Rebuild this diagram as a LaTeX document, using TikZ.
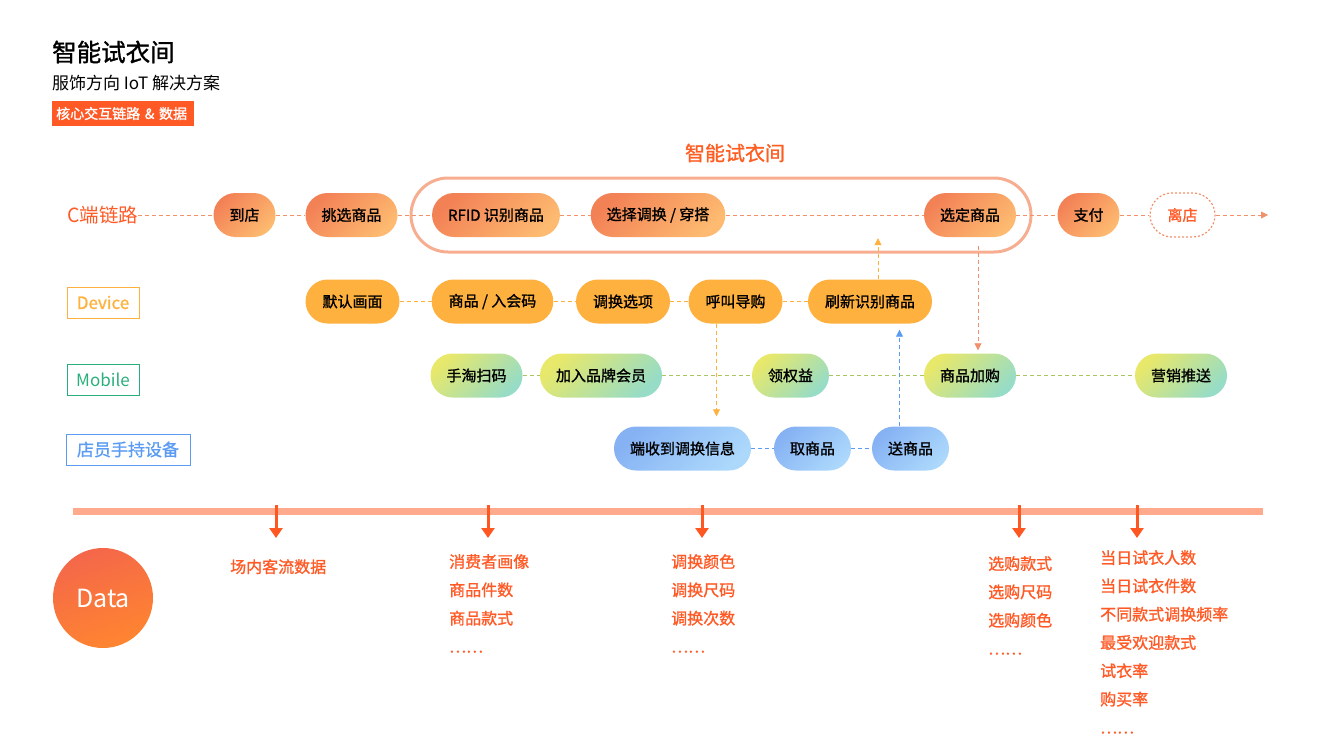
\documentclass[tikz,border=0pt]{standalone}
\usepackage{fontspec}
\setmainfont{Noto Sans CJK SC}[AutoFakeBold=1.2]
\usetikzlibrary{arrows.meta}
\definecolor{cRed}{HTML}{FF5A26}
\definecolor{cLine}{HTML}{F0916A}
\definecolor{cTopA}{HTML}{F38156}
\definecolor{cBotA}{HTML}{FDBA70}
\definecolor{cRoom}{HTML}{F7AD8F}
\definecolor{cDev}{HTML}{FFB13F}
\definecolor{cMob}{HTML}{2AAE7A}
\definecolor{cMobA}{HTML}{E8E86A}
\definecolor{cMobB}{HTML}{96DCC6}
\definecolor{cMobLine}{HTML}{A9C460}
\definecolor{cBlue}{HTML}{5B9CF2}
\definecolor{cBlueA}{HTML}{86B2F4}
\definecolor{cBlueB}{HTML}{ACD8FC}
\definecolor{cBar}{HTML}{FFAA8C}
\definecolor{cArr}{HTML}{FF5722}
\definecolor{cDataA}{HTML}{F4674A}
\definecolor{cDataB}{HTML}{FF8530}

\begin{document}
\begin{tikzpicture}[x=1pt,y=-1pt,
  pill/.style={rounded corners=22pt, minimum height=44pt, inner xsep=16pt,
    font=\fontsize{15}{18}\selectfont\bfseries},
  cstep/.style={pill, top color=cTopA, bottom color=cBotA, shading angle=45},
  devstep/.style={pill, fill=cDev, inner xsep=17pt},
  mobstep/.style={pill, top color=cMobA, bottom color=cMobB, shading angle=45},
  staffstep/.style={pill, top color=cBlueA, bottom color=cBlueB, shading angle=45},
  lanebox/.style={draw, line width=1pt, minimum height=31pt, inner xsep=7pt,
    font=\fontsize{17}{20}\selectfont},
  link/.style={line width=0.8pt, dash pattern=on 4pt off 3pt},
  tip/.style={-{Triangle[length=7pt,width=7pt]}},
  datatext/.style={anchor=north west, inner sep=0pt, align=left, text=cRed,
    font=\fontsize{16}{28.3}\selectfont\bfseries},
  dataarrow/.style={cArr, line width=3pt, -{Triangle[length=10pt,width=13pt]}}]
\useasboundingbox (0,0) rectangle (1336,752);

% heading
\node[anchor=west, inner sep=0pt, font=\fontsize{24.5}{27}\selectfont\bfseries] (title) at (52,52) {智能试衣间};
\node[anchor=west, inner sep=0pt, font=\fontsize{17}{20}\selectfont] (subtitle) at (52,83) {服饰方向 IoT 解决方案};
\node[anchor=west, fill=cRed, text=white, text width=134pt, inner xsep=4pt, minimum height=25pt,
  font=\fontsize{14}{16}\selectfont\bfseries] (tag) at (52,113.5) {核心交互链路 \& 数据};

% fitting room
\node[text=cRed!90!orange, font=\fontsize{20}{23}\selectfont\bfseries] (roomtitle) at (735,153) {智能试衣间};
\draw[cRoom, line width=3pt, rounded corners=37pt] (411,178) rectangle (1031,252);

% C chain
\node[anchor=west, inner sep=0pt, text=cRed, font=\fontsize{19.5}{22}\selectfont] (clane) at (67,215) {C端链路};
\node[cstep] (daodian) at (244.5,215) {到店};
\node[cstep] (tiaoxuan) at (351.5,215) {挑选商品};
\node[cstep] (rfid) at (496,215) {RFID 识别商品};
\node[cstep] (xuanze) at (658,215) {选择调换 / 穿搭};
\node[cstep] (xuanding) at (970,215) {选定商品};
\node[cstep] (zhifu) at (1088.5,215) {支付};
\node[pill, draw=cLine, line width=1.2pt, dash pattern=on 2pt off 2pt, text=cRed, minimum width=65pt] (lidian) at (1182.5,215) {离店};
\coordinate (cend) at (1268,215);
\draw[link, cLine] (clane) -- (daodian);
\draw[link, cLine] (daodian) -- (tiaoxuan);
\draw[link, cLine] (tiaoxuan) -- (rfid);
\draw[link, cLine] (rfid) -- (xuanze);
\draw[link, cLine] (xuanze) -- (xuanding);
\draw[link, cLine] (xuanding) -- (zhifu);
\draw[link, cLine] (zhifu) -- (lidian);
\draw[link, cLine, tip] (lidian) -- (cend);

% device
\node[lanebox, cDev, minimum width=72pt, font=\fontsize{17}{20}\selectfont\bfseries] (devlane) at (103,302.5) {Device};
\node[devstep] (moren) at (352.5,301.5) {默认画面};
\node[devstep] (ruhui) at (492.5,301.5) {商品 / 入会码};
\node[devstep] (tiaohuan) at (623,301.5) {调换选项};
\node[devstep] (hujiao) at (735.5,301.5) {呼叫导购};
\node[devstep] (shuaxin) at (870,301.5) {刷新识别商品};
\draw[link, cDev] (moren) -- (ruhui);
\draw[link, cDev] (ruhui) -- (tiaohuan);
\draw[link, cDev] (tiaohuan) -- (hujiao);
\draw[link, cDev] (hujiao) -- (shuaxin);

% mobile
\node[lanebox, cMob, minimum width=72pt] (moblane) at (103,380) {Mobile};
\node[mobstep] (saoma) at (476.5,375.5) {手淘扫码};
\node[mobstep] (huiyuan) at (601,375.5) {加入品牌会员};
\node[mobstep] (quanyi) at (790.5,375.5) {领权益};
\node[mobstep] (jiagou) at (970,375.5) {商品加购};
\node[mobstep] (tuisong) at (1181,375.5) {营销推送};
\draw[link, cMobLine] (saoma) -- (huiyuan);
\draw[link, cMobLine] (huiyuan) -- (quanyi);
\draw[link, cMobLine] (quanyi) -- (jiagou);
\draw[link, cMobLine] (jiagou) -- (tuisong);

% staff device
\node[lanebox, cBlue, minimum width=124pt, font=\fontsize{17}{20}\selectfont\bfseries] (stafflane) at (128,449.5) {店员手持设备};
\node[staffstep] (shoudao) at (682.5,448.5) {端收到调换信息};
\node[staffstep] (qu) at (812.5,448.5) {取商品};
\node[staffstep] (song) at (910.5,448.5) {送商品};
\draw[link, cBlue] (shoudao) -- (qu);
\draw[link, cBlue] (qu) -- (song);

% cross links
\draw[link, cDev, tip] ([xshift=-19pt]hujiao.south) coordinate (v1) -- ([yshift=10pt]shoudao.north -| v1);
\draw[link, cBlue, tip] ([xshift=-11pt]song.north) coordinate (v2) -- ([yshift=-6pt]shuaxin.south -| v2);
\draw[link, cDev, tip] ([xshift=8pt]shuaxin.north) coordinate (v3) -- ([yshift=-1pt]xuanding.south -| v3);
\draw[link, cLine, tip] ([xshift=8pt,yshift=-9pt]xuanding.south) coordinate (v4) -- ([yshift=3pt]jiagou.north -| v4);

% data
\draw[cBar, line width=7pt] (73,511) -- (1263,511);
\node[circle, minimum size=100pt, top color=cDataA, bottom color=cDataB, shading angle=20,
  text=white, font=\fontsize{25}{28}\selectfont] (data) at (103,598) {Data};
\foreach \x in {276,488,702,1019,1137}
  \draw[dataarrow] (\x,505) -- (\x,538);
\node[datatext] (keliu) at (230,559) {场内客流数据};
\node[datatext] (huaxiang) at (449,554) {消费者画像\\商品件数\\商品款式\\……};
\node[datatext] (yanse) at (671,554) {调换颜色\\调换尺码\\调换次数\\……};
\node[datatext] (kuanshi) at (988,556) {选购款式\\选购尺码\\选购颜色\\……};
\node[datatext] (renshu) at (1100,550) {当日试衣人数\\当日试衣件数\\不同款式调换频率\\最受欢迎款式\\试衣率\\购买率\\……};
\end{tikzpicture}
\end{document}
